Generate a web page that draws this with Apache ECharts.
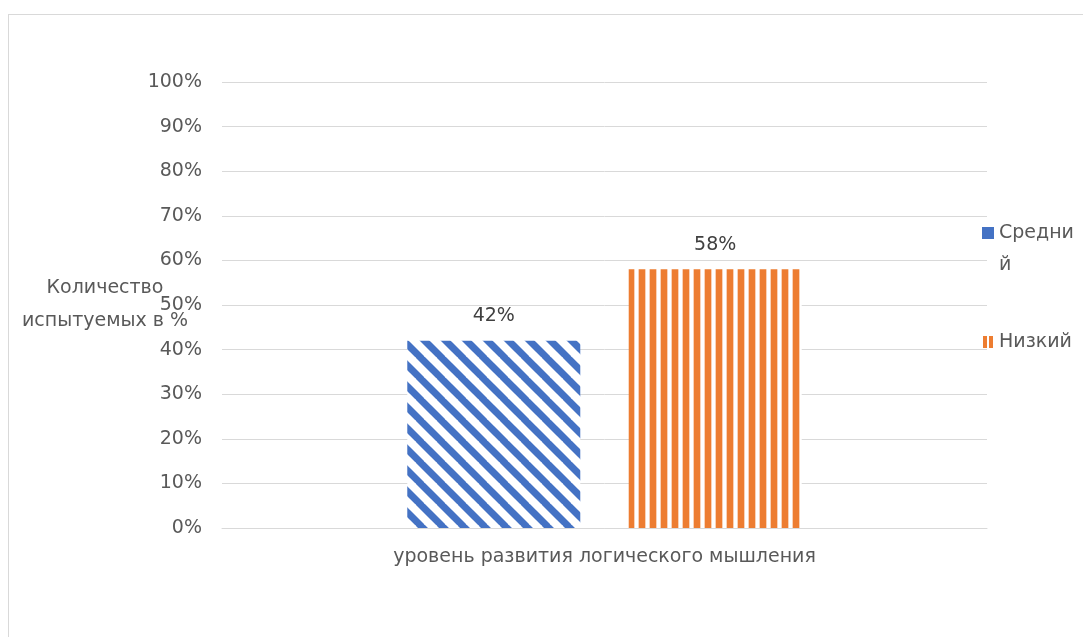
<!DOCTYPE html>
<html>
<head>
<meta charset="utf-8">
<script src="https://cdn.jsdelivr.net/npm/echarts@6/dist/echarts.min.js"></script>
<style>
html,body{margin:0;padding:0;background:#fff;}
#frame{position:absolute;left:8px;top:14px;width:1083px;height:637px;border-left:1px solid #d9d9d9;border-top:1px solid #d9d9d9;box-sizing:border-box;}
#chart{position:absolute;left:0;top:0;width:1083px;height:637px;}
</style>
</head>
<body>
<div id="frame"></div>
<div id="chart"></div>
<script>
var categories = ['уровень развития логического мышления'];
var seriesNames = ['Средний', 'Низкий'];
var srednij = [42];
var nizkij = [58];
var yTicks = { min: 0, max: 100, interval: 10 };
var yAxisName = 'Количество\nиспытуемых в %';

function diagPattern() {
  var T = 21;
  var c = document.createElement('canvas');
  c.width = T; c.height = T;
  var g = c.getContext('2d');
  g.fillStyle = '#ffffff';
  g.fillRect(0, 0, T, T);
  g.strokeStyle = '#4472c4';
  g.lineWidth = 7;
  for (var k = -1; k <= 1; k++) {
    g.beginPath();
    g.moveTo(k * T - 2, -2);
    g.lineTo(k * T + T + 2, T + 2);
    g.stroke();
  }
  return { image: c, repeat: 'repeat' };
}
function vertPattern() {
  var c = document.createElement('canvas');
  c.width = 11; c.height = 4;
  var g = c.getContext('2d');
  g.fillStyle = '#ffffff';
  g.fillRect(0, 0, 11, 4);
  g.fillStyle = '#ed7d31';
  g.fillRect(1, 0, 6, 4);
  g.fillStyle = 'rgba(237,125,49,0.35)';
  g.fillRect(0, 0, 1, 4);
  g.fillRect(7, 0, 1, 4);
  return { image: c, repeat: 'repeat' };
}

var chart = echarts.init(document.getElementById('chart'));
var font = '"DejaVu Sans", "Noto Sans", sans-serif';
var fs = 19;
chart.setOption({
  animation: false,
  textStyle: { fontFamily: font },
  grid: { left: 222, right: 96, top: 82, bottom: 109 },
  legend: {
    orient: 'vertical',
    left: 977,
    top: 212,
    itemWidth: 12,
    itemHeight: 44,
    itemGap: 39,
    align: 'left',
    formatter: function (name) {
      return name === seriesNames[0] ? name.slice(0, 6) + '\n' + name.slice(6) : name;
    },
    textStyle: { fontSize: fs, color: '#595959', fontFamily: font, lineHeight: 32 },
    data: [
      { name: seriesNames[0], icon: 'path://M0,0h12v12h-12z M0,43.99h0.01v0.01h-0.01z', itemStyle: { color: '#4472c4' } },
      { name: seriesNames[1], icon: 'path://M0,0h0.01v0.01h-0.01z M0,16h4v12h-4z M6,16h4v12h-4z M0,43.99h0.01v0.01h-0.01z', itemStyle: { color: '#ed7d31' } }
    ]
  },
  xAxis: {
    type: 'category',
    data: categories,
    axisLine: { lineStyle: { color: '#d9d9d9' } },
    axisTick: { show: false },
    axisLabel: { fontSize: fs, color: '#595959', margin: 20, fontFamily: font }
  },
  yAxis: {
    type: 'value',
    min: yTicks.min,
    max: yTicks.max,
    interval: yTicks.interval,
    name: yAxisName,
    nameLocation: 'middle',
    nameRotate: 0,
    nameGap: 117,
    nameMoveOverlap: false,
    nameTextStyle: { fontSize: fs, color: '#595959', lineHeight: 33, align: 'center', fontFamily: font, backgroundColor: 'rgba(255,255,255,0)', padding: [10, 0, 0, 0] },
    axisLine: { show: false },
    axisTick: { show: false },
    splitLine: { lineStyle: { color: '#d9d9d9' } },
    axisLabel: { formatter: '{value}%', fontSize: fs, color: '#595959', margin: 20, fontFamily: font }
  },
  series: [
    {
      name: seriesNames[0],
      type: 'bar',
      data: srednij,
      barWidth: 173,
      barGap: '28%',
      itemStyle: { color: diagPattern() },
      label: { show: true, position: 'top', formatter: '{c}%', fontSize: fs, color: '#404040', distance: 15, fontFamily: font }
    },
    {
      name: seriesNames[1],
      type: 'bar',
      data: nizkij,
      barWidth: 173,
      barGap: '28%',
      itemStyle: { color: vertPattern() },
      label: { show: true, position: 'top', formatter: '{c}%', fontSize: fs, color: '#404040', distance: 15, fontFamily: font }
    }
  ]
});
</script>
</body>
</html>
